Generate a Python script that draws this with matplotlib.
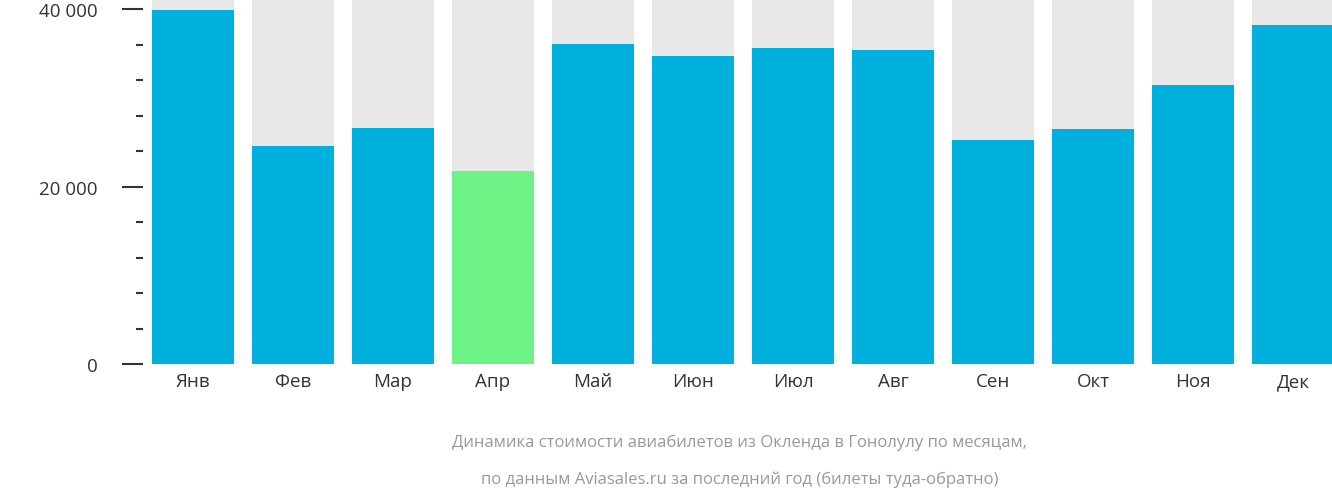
import matplotlib
matplotlib.use("Agg")
import matplotlib.pyplot as plt
from matplotlib.ticker import MultipleLocator, FuncFormatter

months = ["Янв","Фев","Мар","Апр","Май","Июн","Июл","Авг","Сен","Окт","Ноя","Дек"]
prices = [39900, 24560, 26590, 21750, 36060, 34700, 35600, 35380, 25240, 26480, 31440, 38200]
highlight = "Апр"
ymax = 41130

plt.rcParams["font.family"] = "Open Sans"
fig = plt.figure(figsize=(13.32, 5.02), dpi=100)
ax = fig.add_axes([143/1332, 1-365/502, (1332-143)/1332, 365/502])
x = list(range(len(months)))
ax.bar(x, [ymax]*len(x), width=0.82, color="#e8e8e8")
ax.bar(x, prices, width=0.82,
       color=["#6cf285" if m == highlight else "#00b0dc" for m in months])
ax.set_xlim(-0.5, 11.39)
ax.set_ylim(0, ymax)
for s in ax.spines.values():
    s.set_visible(False)
ax.set_xticks(x)
ax.set_xticklabels(months, fontsize=13.5, color="#333333")
ax.tick_params(axis="x", length=0, pad=6)
ax.yaxis.set_major_locator(MultipleLocator(20000))
ax.yaxis.set_minor_locator(MultipleLocator(4000))
ax.yaxis.set_major_formatter(FuncFormatter(lambda v, p: f"{int(v):,} ₽".replace(",", " ")))
ax.tick_params(axis="y", which="major", length=15, width=1.5, color="#333333",
               labelsize=13.5, labelcolor="#333333", pad=6)
ax.tick_params(axis="y", which="minor", length=5, width=1.5, color="#333333")
fig.text(0.555, 1-443/502, "Динамика стоимости авиабилетов из Окленда в Гонолулу по месяцам,",
         ha="center", va="center", fontsize=12, color="#999999")
fig.text(0.555, 1-480/502, "по данным Aviasales.ru за последний год (билеты туда-обратно)",
         ha="center", va="center", fontsize=12, color="#999999")
fig.savefig("out.png", dpi=100)
